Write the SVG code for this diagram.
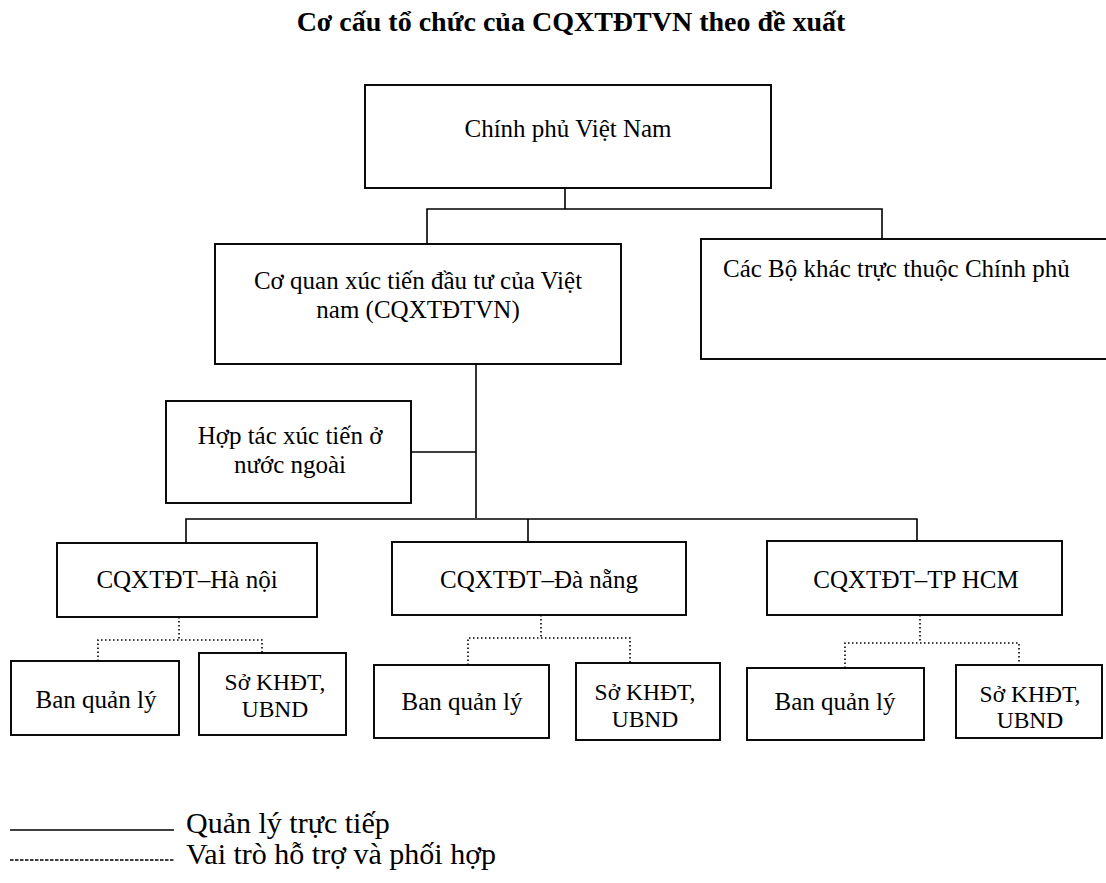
<svg xmlns="http://www.w3.org/2000/svg" width="1106" height="883" viewBox="0 0 1106 883">
<style>
.box{fill:#fff;stroke:#000;stroke-width:1.9}
.t{font-family:"Liberation Serif","Times New Roman",serif;font-size:25px;fill:#000;text-anchor:middle}
.s{font-family:"Liberation Serif","Times New Roman",serif;font-size:23.5px;fill:#000;text-anchor:middle}
.tl{font-family:"Liberation Serif","Times New Roman",serif;font-size:25px;fill:#000}
.title{font-family:"Liberation Serif","Times New Roman",serif;font-size:28px;font-weight:bold;fill:#000;text-anchor:middle}
.leg{font-family:"Liberation Serif","Times New Roman",serif;font-size:30px;fill:#000}
.solid{fill:none;stroke:#000;stroke-width:1.6}
.dot{fill:none;stroke:#000;stroke-width:1.6;stroke-dasharray:1.5 2.5}
.dash{fill:none;stroke:#000;stroke-width:1.6;stroke-dasharray:3.5 1.5}
</style>
<rect width="1106" height="883" fill="#fff"/>
<text class="title" x="571" y="31">Cơ cấu tổ chức của CQXTĐTVN theo đề xuất</text>

<g id="connectors">
<path class="solid" d="M565 188V209M427 244V209H882V239"/>
<path class="solid" d="M476 364V518M411 452H476M186 543V519H917V541M528 519V542"/>
<path class="dot" d="M179 617V640M98 661V640H262V653"/>
<path class="dot" d="M541 615V638M468 665V638H630V663"/>
<path class="dot" d="M920 615V643M845 668V643H1019V665"/>
</g>

<g id="chinhphu"><rect class="box" x="365" y="85" width="406" height="103"/><text class="t" x="568" y="137">Chính phủ Việt Nam</text></g>
<g id="cqxtdtvn"><rect class="box" x="215" y="244" width="406" height="120"/><text class="t" x="418" y="289">Cơ quan xúc tiến đầu tư của Việt</text><text class="t" x="418" y="318">nam (CQXTĐTVN)</text></g>
<g id="cacbo"><rect class="box" x="701" y="239" width="410" height="120"/><text class="tl" x="723" y="277">Các Bộ khác trực thuộc Chính phủ</text></g>
<g id="hoptac"><rect class="box" x="166" y="401" width="245" height="102"/><text class="t" x="290" y="444">Hợp tác xúc tiến ở</text><text class="t" x="290" y="473">nước ngoài</text></g>
<g id="hanoi"><rect class="box" x="57" y="543" width="260" height="74"/><text class="t" x="187" y="588">CQXTĐT–Hà nội</text></g>
<g id="danang"><rect class="box" x="392" y="542" width="294" height="73"/><text class="t" x="539" y="588">CQXTĐT–Đà nẵng</text></g>
<g id="hcm"><rect class="box" x="767" y="541" width="295" height="74"/><text class="t" x="916" y="588">CQXTĐT–TP HCM</text></g>
<g id="bql1"><rect class="box" x="11" y="661" width="168" height="74"/><text class="t" x="96" y="708">Ban quản lý</text></g>
<g id="so1"><rect class="box" x="199" y="653" width="147" height="82"/><text class="s" x="275" y="690">Sở KHĐT,</text><text class="s" x="275" y="717">UBND</text></g>
<g id="bql2"><rect class="box" x="374" y="665" width="175" height="73"/><text class="t" x="462" y="710">Ban quản lý</text></g>
<g id="so2"><rect class="box" x="576" y="663" width="144" height="77"/><text class="s" x="645" y="700">Sở KHĐT,</text><text class="s" x="645" y="727">UBND</text></g>
<g id="bql3"><rect class="box" x="747" y="668" width="177" height="72"/><text class="t" x="835" y="710">Ban quản lý</text></g>
<g id="so3"><rect class="box" x="956" y="665" width="146" height="73"/><text class="s" x="1030" y="702">Sở KHĐT,</text><text class="s" x="1030" y="728">UBND</text></g>

<g id="legend">
<path class="solid" d="M10 830H174"/>
<text class="leg" x="186" y="833">Quản lý trực tiếp</text>
<path class="dash" d="M10 860H174"/>
<text class="leg" x="186" y="864">Vai trò hỗ trợ và phối hợp</text>
</g>
</svg>
